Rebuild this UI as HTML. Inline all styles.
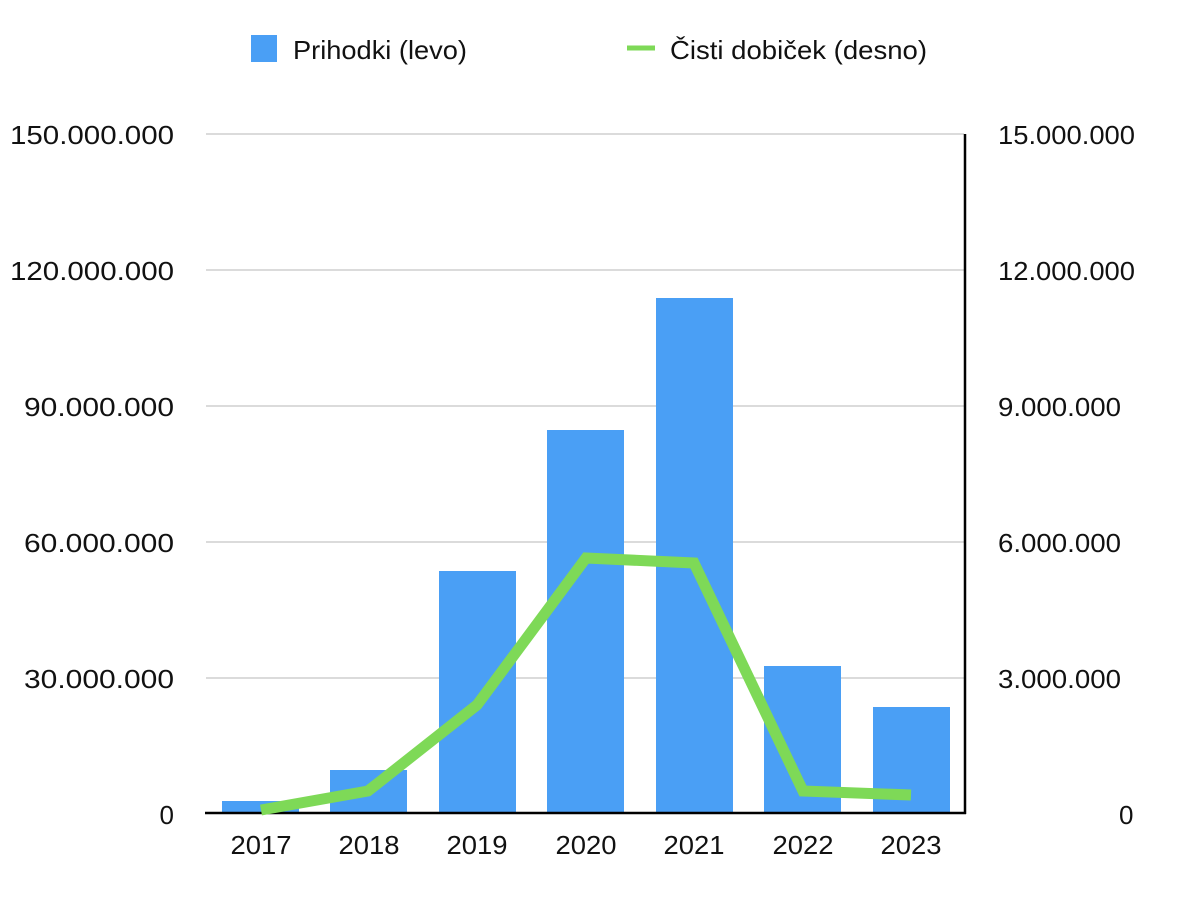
<!DOCTYPE html>
<html><head><meta charset="utf-8"><style>
body{margin:0;background:#fff;}
svg text{font-family:"Liberation Sans",Arial,sans-serif;font-size:26px;fill:#111;}
</style></head><body>
<svg width="1200" height="903" viewBox="0 0 1200 903" xmlns="http://www.w3.org/2000/svg">
<rect width="1200" height="903" fill="#fff"/>
<rect x="251" y="35" width="26" height="27" fill="#4a9ff5"/>
<text x="293" y="59" textLength="174" lengthAdjust="spacingAndGlyphs">Prihodki (levo)</text>
<line x1="627" y1="48" x2="655" y2="48" stroke="#7ed957" stroke-width="5"/>
<text x="670" y="59" textLength="257" lengthAdjust="spacingAndGlyphs">Čisti dobiček (desno)</text>
<g stroke="#cfcfcf" stroke-width="1.5">
<line x1="206" y1="134" x2="964" y2="134"/>
<line x1="206" y1="270" x2="964" y2="270"/>
<line x1="206" y1="406" x2="964" y2="406"/>
<line x1="206" y1="542" x2="964" y2="542"/>
<line x1="206" y1="678" x2="964" y2="678"/>
</g>
<g fill="#4a9ff5">
<rect x="222" y="801" width="77" height="13"/>
<rect x="330" y="770" width="77" height="44"/>
<rect x="439" y="571" width="77" height="243"/>
<rect x="547" y="430" width="77" height="384"/>
<rect x="656" y="298" width="77" height="516"/>
<rect x="764" y="666" width="77" height="148"/>
<rect x="873" y="707" width="77" height="107"/>
</g>
<line x1="205" y1="813" x2="966" y2="813" stroke="#000" stroke-width="2.5"/>
<line x1="965" y1="134" x2="965" y2="814" stroke="#000" stroke-width="2.5"/>
<polyline points="261,810 368,791 477,705 586,558 694,563 803,791 911,795" fill="none" stroke="#7ed957" stroke-width="11" stroke-linejoin="miter"/>
<g text-anchor="end">
<text x="174" y="144" textLength="164" lengthAdjust="spacingAndGlyphs">150.000.000</text>
<text x="174" y="280" textLength="164" lengthAdjust="spacingAndGlyphs">120.000.000</text>
<text x="174" y="416" textLength="150" lengthAdjust="spacingAndGlyphs">90.000.000</text>
<text x="174" y="552" textLength="150" lengthAdjust="spacingAndGlyphs">60.000.000</text>
<text x="174" y="688" textLength="150" lengthAdjust="spacingAndGlyphs">30.000.000</text>
<text x="174" y="824">0</text>
</g>
<g text-anchor="start">
<text x="998" y="144" textLength="137" lengthAdjust="spacingAndGlyphs">15.000.000</text>
<text x="998" y="280" textLength="137" lengthAdjust="spacingAndGlyphs">12.000.000</text>
<text x="998" y="416" textLength="123" lengthAdjust="spacingAndGlyphs">9.000.000</text>
<text x="998" y="552" textLength="123" lengthAdjust="spacingAndGlyphs">6.000.000</text>
<text x="998" y="688" textLength="123" lengthAdjust="spacingAndGlyphs">3.000.000</text>
<text x="1119" y="824">0</text>
</g>
<g text-anchor="middle">
<text x="261" y="854" textLength="61" lengthAdjust="spacingAndGlyphs">2017</text>
<text x="369" y="854" textLength="61" lengthAdjust="spacingAndGlyphs">2018</text>
<text x="477" y="854" textLength="61" lengthAdjust="spacingAndGlyphs">2019</text>
<text x="586" y="854" textLength="61" lengthAdjust="spacingAndGlyphs">2020</text>
<text x="694" y="854" textLength="61" lengthAdjust="spacingAndGlyphs">2021</text>
<text x="803" y="854" textLength="61" lengthAdjust="spacingAndGlyphs">2022</text>
<text x="911" y="854" textLength="61" lengthAdjust="spacingAndGlyphs">2023</text>
</g>
</svg>
</body></html>
